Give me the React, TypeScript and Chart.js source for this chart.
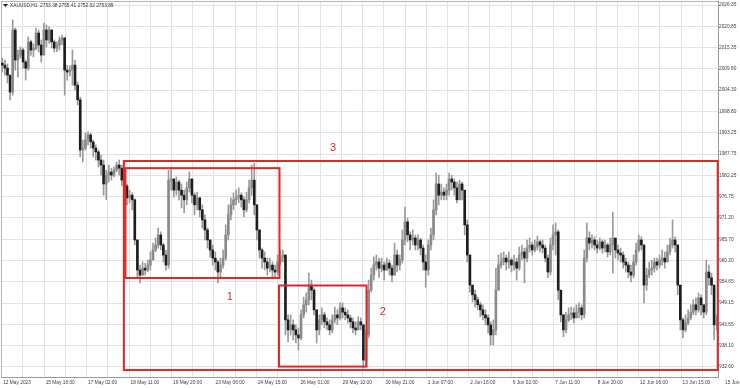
import React, { useEffect, useRef } from 'react';
import { Chart, registerables } from 'chart.js';

Chart.register(...registerables);

// ---- data: 2-hour XAUUSD bars ----
const FIRST_OPEN = 2011.3;
const CLOSE = [
  2010.8, 2010.0, 2008.2, 2003.8, 2019.9, 2012.1, 2013.4, 2014.7, 2011.6, 2010.0,
  2016.8, 2014.7, 2015.2, 2019.1, 2016.0, 2013.4, 2019.9, 2017.3, 2019.9, 2016.8,
  2015.2, 2016.0, 2017.3, 2017.8, 2009.5, 2009.0, 2009.5, 2010.8, 2005.6, 2001.8,
  1988.8, 1989.3, 1991.4, 1992.7, 1990.9, 1989.3, 1988.3, 1986.2, 1984.9, 1980.0,
  1982.3, 1983.1, 1982.3, 1983.6, 1984.9, 1984.1, 1981.0, 1979.5, 1976.4, 1977.1,
  1975.9, 1965.5, 1957.7, 1956.4, 1958.2, 1957.7, 1959.0, 1960.3, 1962.9, 1964.2,
  1966.8, 1964.2, 1961.6, 1959.0, 1981.0, 1981.3, 1978.4, 1980.5, 1978.4, 1977.1,
  1975.9, 1979.0, 1981.3, 1977.1, 1974.6, 1976.4, 1973.3, 1970.7, 1968.1, 1965.5,
  1962.9, 1960.8, 1959.8, 1957.2, 1959.0, 1960.8, 1966.8, 1972.0, 1974.6, 1975.9,
  1976.4, 1977.1, 1975.9, 1973.3, 1975.9, 1979.0, 1981.0, 1974.6, 1968.1, 1962.9,
  1960.8, 1959.8, 1958.2, 1959.0, 1957.7, 1957.2, 1959.8, 1961.1, 1961.6, 1944.8,
  1942.2, 1943.5, 1942.2, 1940.9, 1940.1, 1946.1, 1948.7, 1950.0, 1953.8, 1952.5,
  1947.4, 1942.2, 1944.8, 1946.1, 1944.3, 1943.5, 1942.2, 1944.8, 1946.1, 1945.3,
  1947.9, 1946.8, 1946.1, 1945.3, 1944.3, 1942.7, 1942.2, 1944.3, 1943.5, 1934.4,
  1940.9, 1952.5, 1956.4, 1959.0, 1959.8, 1958.2, 1959.0, 1957.7, 1959.5, 1958.2,
  1956.4, 1961.6, 1959.0, 1960.3, 1965.5, 1970.2, 1966.8, 1965.5, 1966.0, 1964.2,
  1965.5, 1963.4, 1959.8, 1957.7, 1964.2, 1966.8, 1973.3, 1980.0, 1977.1, 1977.9,
  1977.1, 1978.4, 1981.3, 1980.5, 1979.0, 1975.9, 1980.0, 1978.4, 1969.4, 1961.6,
  1953.8, 1951.3, 1950.0, 1948.7, 1947.4, 1946.1, 1945.3, 1943.5, 1940.9, 1942.2,
  1952.5, 1959.0, 1959.8, 1960.8, 1959.8, 1960.3, 1959.0, 1959.8, 1958.2, 1961.6,
  1962.4, 1960.8, 1963.4, 1964.2, 1962.9, 1963.7, 1965.0, 1964.2, 1963.4, 1960.8,
  1957.2, 1964.2, 1966.8, 1967.6, 1952.5, 1946.1, 1942.2, 1944.8, 1946.1, 1946.6,
  1945.3, 1946.8, 1947.9, 1946.1, 1960.8, 1966.0, 1964.7, 1965.5, 1964.2, 1963.4,
  1965.0, 1963.4, 1964.2, 1962.4, 1964.2, 1966.0, 1962.9, 1962.1, 1961.6, 1959.8,
  1959.0, 1957.2, 1956.4, 1959.8, 1962.9, 1965.5, 1964.2, 1953.8, 1956.4, 1957.7,
  1958.2, 1959.8, 1959.0, 1960.3, 1960.8, 1959.8, 1962.4, 1964.2, 1965.5, 1964.2,
  1953.8, 1944.8, 1942.2, 1944.0, 1945.3, 1946.8, 1948.7, 1947.4, 1950.5, 1948.7,
  1946.8, 1957.2, 1955.7, 1953.8, 1943.5, 1944.8,
];
const HIGH = [
  2012.6, 2012.1, 2011.1, 2007.5, 2022.5, 2020.4, 2014.7, 2015.5, 2015.2, 2012.1,
  2018.1, 2017.3, 2016.3, 2020.4, 2019.9, 2017.3, 2021.7, 2021.2, 2020.7, 2019.9,
  2017.3, 2016.8, 2018.1, 2018.6, 2018.0, 2010.8, 2010.6, 2014.7, 2012.1, 2006.4,
  2002.5, 1991.4, 1993.2, 1993.5, 1993.2, 1991.4, 1990.1, 1988.8, 1987.5, 1986.2,
  1983.6, 1984.9, 1984.1, 1984.4, 1985.7, 1986.2, 1984.9, 1981.6, 1979.9, 1978.4,
  1977.7, 1976.2, 1965.5, 1959.0, 1959.8, 1959.5, 1960.3, 1962.4, 1964.7, 1966.0,
  1968.6, 1967.6, 1964.7, 1962.9, 1983.6, 1984.1, 1981.3, 1981.8, 1981.0, 1980.0,
  1978.4, 1980.5, 1983.1, 1981.3, 1977.7, 1977.9, 1976.6, 1974.6, 1972.0, 1968.6,
  1965.5, 1964.2, 1962.4, 1960.3, 1960.8, 1962.9, 1969.4, 1974.6, 1976.4, 1977.7,
  1978.4, 1979.0, 1977.7, 1976.6, 1977.9, 1981.0, 1984.9, 1985.4, 1974.6, 1968.1,
  1963.4, 1962.4, 1960.8, 1960.8, 1959.8, 1959.0, 1961.6, 1962.9, 1962.9, 1961.6,
  1946.1, 1946.1, 1944.8, 1943.5, 1942.7, 1947.4, 1950.7, 1951.8, 1956.9, 1955.1,
  1953.1, 1946.8, 1946.1, 1947.9, 1946.8, 1945.3, 1944.8, 1946.1, 1948.1, 1947.4,
  1949.2, 1949.2, 1947.9, 1947.4, 1946.1, 1945.3, 1944.3, 1945.6, 1945.3, 1943.5,
  1942.2, 1955.1, 1958.2, 1961.1, 1961.6, 1960.8, 1960.8, 1959.8, 1960.8, 1960.3,
  1959.0, 1964.7, 1962.9, 1961.6, 1968.1, 1974.0, 1971.2, 1967.6, 1968.1, 1966.8,
  1966.8, 1966.0, 1964.2, 1961.6, 1965.5, 1968.6, 1975.9, 1982.8, 1982.3, 1980.0,
  1979.0, 1980.0, 1982.8, 1982.3, 1981.3, 1980.5, 1981.0, 1980.5, 1978.4, 1970.7,
  1961.6, 1953.8, 1952.5, 1950.7, 1949.4, 1948.7, 1947.4, 1946.1, 1944.3, 1944.8,
  1958.2, 1961.6, 1962.1, 1962.4, 1961.6, 1962.4, 1960.8, 1961.6, 1960.8, 1963.7,
  1964.2, 1963.4, 1965.5, 1966.0, 1965.0, 1965.5, 1966.5, 1965.5, 1965.5, 1964.2,
  1961.6, 1966.0, 1969.4, 1969.9, 1968.1, 1952.5, 1946.1, 1946.8, 1947.9, 1948.1,
  1947.9, 1948.7, 1949.2, 1948.7, 1962.9, 1969.9, 1967.6, 1966.8, 1966.3, 1965.5,
  1966.0, 1965.5, 1965.5, 1964.7, 1966.0, 1972.7, 1965.5, 1964.2, 1963.4, 1962.4,
  1960.8, 1959.8, 1959.0, 1961.6, 1964.7, 1966.8, 1966.3, 1964.2, 1958.2, 1959.8,
  1960.3, 1960.8, 1960.8, 1961.6, 1962.9, 1962.4, 1964.2, 1966.0, 1970.7, 1966.3,
  1964.2, 1953.8, 1945.3, 1946.1, 1947.4, 1948.7, 1950.0, 1950.5, 1951.8, 1951.3,
  1948.7, 1960.3, 1959.0, 1956.9, 1953.8, 1946.1,
];
const LOW = [
  2009.0, 2008.2, 2006.2, 2001.8, 2003.0, 2009.5, 2007.7, 2012.6, 2010.0, 2006.9,
  2009.5, 2013.4, 2012.9, 2014.7, 2014.2, 2011.6, 2013.4, 2015.5, 2016.5, 2015.2,
  2014.2, 2014.2, 2014.7, 2016.0, 2003.0, 2006.9, 2008.0, 2005.6, 2004.3, 2000.5,
  1987.0, 1985.7, 1988.8, 1990.1, 1989.3, 1987.0, 1986.2, 1984.4, 1982.3, 1977.1,
  1975.9, 1980.5, 1981.0, 1981.8, 1983.1, 1982.3, 1979.5, 1977.7, 1974.6, 1975.1,
  1973.3, 1964.2, 1955.9, 1954.4, 1956.4, 1956.4, 1957.2, 1957.7, 1960.8, 1962.4,
  1963.4, 1962.9, 1959.8, 1957.7, 1958.2, 1978.4, 1976.6, 1977.1, 1975.9, 1973.8,
  1972.5, 1974.6, 1977.9, 1975.1, 1972.0, 1973.3, 1971.5, 1968.6, 1965.5, 1963.4,
  1961.1, 1959.0, 1957.7, 1954.4, 1955.9, 1958.2, 1960.3, 1965.5, 1970.7, 1973.3,
  1974.6, 1975.1, 1974.0, 1971.5, 1972.7, 1975.1, 1977.1, 1972.0, 1965.5, 1960.8,
  1958.2, 1957.7, 1956.4, 1957.2, 1955.9, 1955.7, 1956.4, 1959.0, 1959.8, 1940.9,
  1939.1, 1940.9, 1939.6, 1938.8, 1937.0, 1939.6, 1945.3, 1946.8, 1948.7, 1950.0,
  1946.1, 1938.8, 1940.9, 1943.5, 1942.7, 1942.2, 1940.9, 1941.4, 1944.0, 1943.5,
  1944.8, 1945.3, 1944.8, 1944.0, 1942.7, 1941.4, 1940.9, 1942.2, 1942.2, 1932.3,
  1933.1, 1940.1, 1952.0, 1955.1, 1957.7, 1955.7, 1957.2, 1955.1, 1957.7, 1956.4,
  1954.6, 1957.2, 1957.2, 1957.7, 1959.5, 1964.2, 1965.0, 1962.9, 1964.2, 1962.9,
  1962.9, 1961.6, 1957.7, 1953.3, 1956.4, 1962.9, 1965.5, 1972.0, 1974.6, 1975.9,
  1975.9, 1975.9, 1977.1, 1978.4, 1977.1, 1975.1, 1976.4, 1975.9, 1966.8, 1959.8,
  1952.0, 1949.4, 1948.1, 1947.4, 1945.6, 1944.8, 1943.5, 1941.4, 1938.3, 1938.3,
  1940.9, 1952.5, 1958.2, 1959.0, 1957.7, 1958.2, 1957.2, 1957.7, 1955.1, 1957.7,
  1960.3, 1954.4, 1959.8, 1962.4, 1961.6, 1962.4, 1962.9, 1962.4, 1962.1, 1959.8,
  1955.7, 1956.4, 1962.9, 1961.6, 1950.0, 1944.3, 1940.4, 1941.4, 1944.3, 1944.8,
  1944.0, 1945.3, 1945.3, 1944.8, 1945.3, 1959.8, 1962.9, 1963.4, 1962.9, 1962.1,
  1962.9, 1962.1, 1962.4, 1961.1, 1961.6, 1956.9, 1960.8, 1960.3, 1959.8, 1958.2,
  1957.2, 1955.7, 1954.6, 1955.7, 1959.0, 1962.4, 1962.9, 1949.2, 1952.5, 1955.7,
  1956.4, 1957.2, 1957.7, 1958.2, 1959.0, 1958.2, 1959.8, 1961.6, 1963.4, 1962.4,
  1951.3, 1942.2, 1940.1, 1941.7, 1943.5, 1944.8, 1946.1, 1946.1, 1946.8, 1946.1,
  1945.3, 1946.1, 1953.8, 1951.3, 1939.6, 1942.2,
];

// ---- axes ----
const Y_MIN = 1930.0;
const Y_MAX = 2027.4;
const Y_TICKS = [
  2026.35, 2020.85, 2015.35, 2009.8, 2004.3, 1998.8, 1993.25, 1987.75, 1982.25,
  1976.75, 1971.2, 1965.7, 1960.2, 1954.65, 1949.15, 1943.65, 1938.1, 1932.6,
];
const Y_LABELS = [
  '2026.35', '2020.85', '2015.35', '2009.80', '2004.30', '1998.80', '1993.25', '1987.75', '1982.25',
  '976.75', '971.20', '965.70', '960.20', '954.65', '949.15', '943.65', '938.10', '932.60',
];
const X_GRID_LABELS = [
  '12 May 2023', '', '15 May 16:00', '', '17 May 02:00', '', '18 May 11:00', '',
  '19 May 20:00', '', '23 May 06:00', '', '24 May 15:00', '', '26 May 01:00', '',
  '29 May 10:00', '', '30 May 21:00', '', '1 Jun 07:00', '', '2 Jun 16:00', '',
  '6 Jun 02:00', '', '7 Jun 11:00', '', '8 Jun 20:00', '', '12 Jun 06:00', '',
  '13 Jun 15:00', '', '15 Jun 01:00',
];
const GRID_START = -0.23;
const GRID_STEP = 8.172;

const TITLE = 'XAUUSD,H1  2753.38 2755.41 2752.32 2753.89';

// ---- annotation boxes (bar index / price units) ----
const BOX_LEFT = [46.8, 47.4, 106.5];
const BOX_RIGHT = [275.4, 106.7, 140.2];
const BOX_TOP = [1985.95, 1984.1, 1953.7];
const BOX_BOTTOM = [1931.8, 1955.65, 1932.7];
const TAG_TEXT = ['3', '1', '2'];
const TAG_X = [127.3, 87.6, 146.5];
const TAG_Y = [1989.3, 1950.7, 1946.8];

const GRID = '#e3e3e3';
const TEXT = '#404040';
const WICK = '#9a9a9a';
const BULL = '#8a8a8a';
const BEAR = '#1e1e1e';
const RED = 'rgb(226,38,38)';
const FONT = "'Liberation Sans', Arial, sans-serif";

export default function App() {
  const ref = useRef<HTMLCanvasElement>(null);

  useEffect(() => {
    const canvas = ref.current as HTMLCanvasElement;
    const n = CLOSE.length;
    const opens = CLOSE.map((c, i) => (i === 0 ? FIRST_OPEN : CLOSE[i - 1]));
    const wickData = CLOSE.map((c, i) => ({
      x: i,
      y: [Math.min(LOW[i], opens[i], c), Math.max(HIGH[i], opens[i], c)],
    }));
    const bodyData = CLOSE.map((c, i) => ({ x: i, y: [opens[i], c] }));
    const bodyColors = CLOSE.map((c, i) => (c >= opens[i] ? BULL : BEAR));

    const overlay = {
      id: 'overlay',
      beforeDatasetsDraw(chart: any) {
        const { ctx, chartArea } = chart;
        ctx.save();
        ctx.strokeStyle = '#b4b4b4';
        ctx.lineWidth = 1;
        ctx.beginPath();
        ctx.moveTo(chartArea.left + 0.5, chartArea.bottom);
        ctx.lineTo(chartArea.left + 0.5, chartArea.top + 0.5);
        ctx.lineTo(chartArea.right, chartArea.top + 0.5);
        ctx.stroke();
        ctx.restore();
      },
      afterDatasetsDraw(chart: any) {
        const { ctx } = chart;
        const xs = chart.scales.x;
        const ys = chart.scales.y;
        ctx.save();
        ctx.strokeStyle = RED;
        ctx.lineWidth = 2;
        for (let b = 0; b < BOX_LEFT.length; b++) {
          const x1 = xs.getPixelForValue(BOX_LEFT[b]);
          const x2 = xs.getPixelForValue(BOX_RIGHT[b]);
          const y1 = ys.getPixelForValue(BOX_TOP[b]);
          const y2 = ys.getPixelForValue(BOX_BOTTOM[b]);
          ctx.strokeRect(x1, y1, x2 - x1, y2 - y1);
        }
        ctx.fillStyle = RED;
        ctx.font = `11px ${FONT}`;
        ctx.textAlign = 'center';
        ctx.textBaseline = 'middle';
        for (let t = 0; t < TAG_TEXT.length; t++) {
          ctx.fillText(TAG_TEXT[t], xs.getPixelForValue(TAG_X[t]), ys.getPixelForValue(TAG_Y[t]));
        }
        ctx.restore();
      },
      afterDraw(chart: any) {
        const { ctx, chartArea } = chart;
        ctx.save();
        ctx.fillStyle = '#222';
        const tx = chartArea.left + 2;
        const ty = chartArea.top + 3;
        ctx.beginPath();
        ctx.moveTo(tx, ty);
        ctx.lineTo(tx + 5, ty);
        ctx.lineTo(tx + 2.5, ty + 3);
        ctx.closePath();
        ctx.fill();
        ctx.fillStyle = '#333';
        ctx.font = `4.8px ${FONT}`;
        ctx.textAlign = 'left';
        ctx.textBaseline = 'middle';
        ctx.fillText(TITLE, tx + 7, ty + 1.5);
        ctx.restore();
      },
    };

    const chart = new Chart(canvas, {
      type: 'bar',
      data: {
        datasets: [
          {
            data: wickData as any,
            backgroundColor: WICK,
            barThickness: 1,
            grouped: false,
            borderWidth: 0,
            order: 2,
          } as any,
          {
            data: bodyData as any,
            backgroundColor: bodyColors,
            barThickness: 2,
            grouped: false,
            borderWidth: 0,
            minBarLength: 1,
            order: 1,
          } as any,
        ],
      },
      options: {
        animation: false,
        responsive: false,
        devicePixelRatio: 1,
        layout: { padding: { left: 1, top: 1, right: 0, bottom: 0 } },
        plugins: { legend: { display: false }, tooltip: { enabled: false } },
        scales: {
          x: {
            type: 'linear',
            min: -0.5,
            max: n - 0.5,
            bounds: 'data',
            offset: false,
            grid: {
              offset: false,
              drawTicks: false,
              lineWidth: 1,
              color: (c: any) => (c.tick && c.tick.value > n - 0.5 ? 'rgba(0,0,0,0)' : GRID),
            },
            border: { display: true, color: '#9a9a9a' },
            ticks: {
              autoSkip: false,
              maxRotation: 0,
              minRotation: 0,
              align: 'start',
              labelOffset: 1.5,
              padding: 3,
              color: TEXT,
              font: { family: FONT, size: 4.8 },
              callback: (_v: any, i: number) => X_GRID_LABELS[i],
            },
            afterBuildTicks: (s: any) => {
              s.ticks = X_GRID_LABELS.map((_l, k) => ({ value: GRID_START + k * GRID_STEP }));
            },
            afterFit: (s: any) => {
              s.height = 11;
              s.paddingLeft = 0;
              s.paddingRight = 0;
            },
          } as any,
          y: {
            type: 'linear',
            position: 'right',
            min: Y_MIN,
            max: Y_MAX,
            grid: { drawTicks: false, lineWidth: 1, color: GRID },
            border: { display: true, color: '#9a9a9a' },
            ticks: {
              padding: 1,
              color: TEXT,
              font: { family: FONT, size: 4.8 },
              callback: (_v: any, i: number) => Y_LABELS[i],
            },
            afterBuildTicks: (s: any) => {
              s.ticks = Y_TICKS.map((v) => ({ value: v }));
            },
            afterFit: (s: any) => {
              s.width = 22;
              s.paddingTop = 0;
              s.paddingBottom = 0;
            },
          } as any,
        },
      },
      plugins: [overlay],
    });

    return () => chart.destroy();
  }, []);

  return (
    <div style={{ position: 'absolute', left: 0, top: 0, width: 740, height: 388, background: '#ffffff' }}>
      <canvas ref={ref} width={740} height={388} style={{ display: 'block', width: 740, height: 388 }} />
    </div>
  );
}
